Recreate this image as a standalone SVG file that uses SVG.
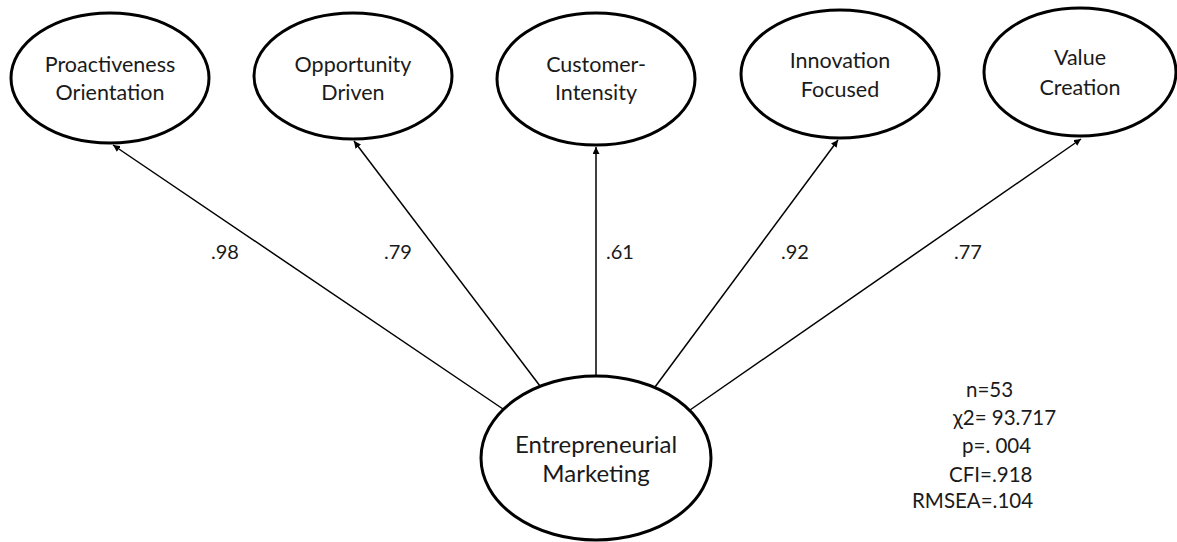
<svg xmlns="http://www.w3.org/2000/svg" width="1177" height="542" viewBox="0 0 1177 542">
  <style>
    .node ellipse { fill: #ffffff; stroke: #000000; stroke-width: 3; }
    .node text { font-family: Lato, "Liberation Sans", sans-serif; font-size: 21.5px; fill: #1a1a1a; text-anchor: middle; }
    .node text.big { font-size: 24px; }
    .edges line { stroke: #000000; stroke-width: 1.5; marker-end: url(#arrow); }
    .lbl { font-family: Lato, "Liberation Sans", sans-serif; font-size: 20px; fill: #1a1a1a; text-anchor: middle; }
    .fit { font-family: Lato, "Liberation Sans", sans-serif; font-size: 20.5px; fill: #1a1a1a; }
  </style>
  <defs>
    <marker id="arrow" viewBox="0 0 10 10" refX="10" refY="5" markerWidth="7" markerHeight="7" markerUnits="userSpaceOnUse" orient="auto">
      <path d="M0,0 L10,5 L0,10 z" fill="#000000"/>
    </marker>
  </defs>
  <rect width="1177" height="542" fill="#ffffff"/>

  <!-- loadings: latent factor to each dimension -->
  <g class="edges" id="connectors">
    <line x1="503" y1="409" x2="113" y2="145"/>
    <line x1="540" y1="386" x2="354" y2="141"/>
    <line x1="596" y1="376" x2="596" y2="147"/>
    <line x1="655" y1="387" x2="838" y2="140"/>
    <line x1="690" y1="410" x2="1081" y2="139"/>
  </g>

  <g id="proactiveness" class="node">
    <ellipse cx="110" cy="78" rx="99" ry="65"/>
    <text x="110" y="72">Proactiveness</text>
    <text x="110" y="100">Orientation</text>
  </g>
  <g id="opportunity" class="node">
    <ellipse cx="353" cy="76" rx="99" ry="63"/>
    <text x="353" y="72">Opportunity</text>
    <text x="353" y="100">Driven</text>
  </g>
  <g id="customer" class="node">
    <ellipse cx="596" cy="79" rx="99" ry="66"/>
    <text x="596" y="72">Customer-</text>
    <text x="596" y="100">Intensity</text>
  </g>
  <g id="innovation" class="node">
    <ellipse cx="840" cy="74" rx="99" ry="64"/>
    <text x="840" y="68">Innovation</text>
    <text x="840" y="97">Focused</text>
  </g>
  <g id="value" class="node">
    <ellipse cx="1080" cy="72" rx="96" ry="64"/>
    <text x="1080" y="65">Value</text>
    <text x="1080" y="95">Creation</text>
  </g>
  <g id="entrepreneurial" class="node">
    <ellipse cx="596" cy="458" rx="115" ry="82"/>
    <text class="big" x="596" y="453">Entrepreneurial</text>
    <text class="big" x="596" y="482">Marketing</text>
  </g>

  <g id="loadings">
    <text class="lbl" x="225" y="259">.98</text>
    <text class="lbl" x="398" y="259">.79</text>
    <text class="lbl" x="620" y="259">.61</text>
    <text class="lbl" x="795" y="259">.92</text>
    <text class="lbl" x="968" y="259">.77</text>
  </g>

  <g id="fit-indices">
    <text class="fit" x="966" y="397">n=53</text>
    <text class="fit" x="953" y="425">χ2= 93.717</text>
    <text class="fit" x="962" y="453">p=. 004</text>
    <text class="fit" x="949" y="482">CFI=.918</text>
    <text class="fit" x="912" y="508">RMSEA=.104</text>
  </g>
</svg>
